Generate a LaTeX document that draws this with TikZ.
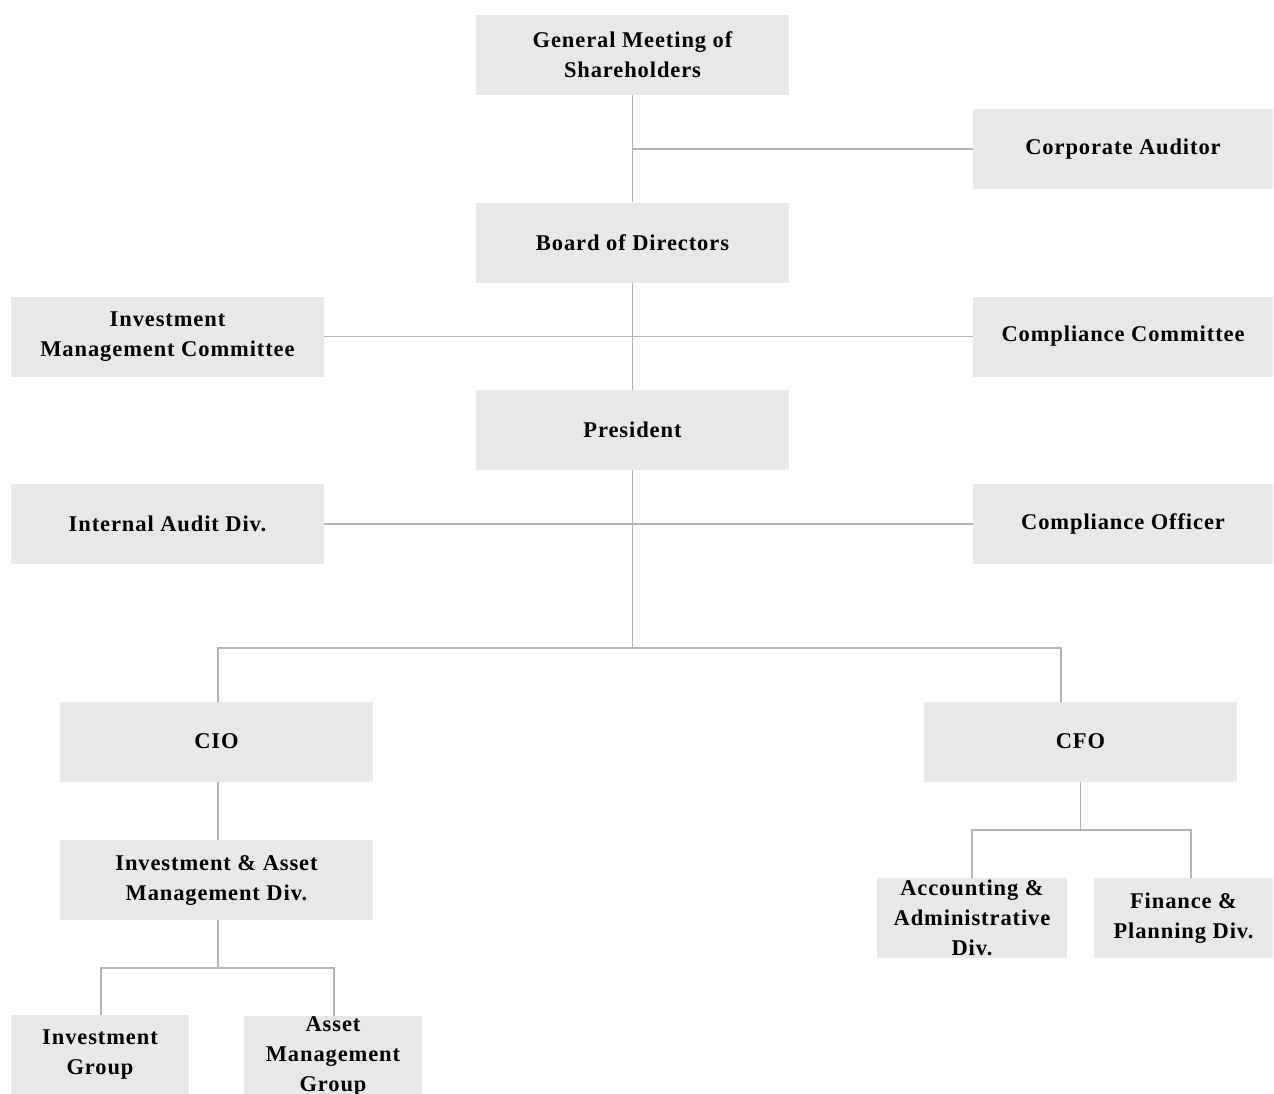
\documentclass[tikz,border=0pt]{standalone}
\usepackage{fontspec}
\setmainfont{Liberation Serif}
\usetikzlibrary{positioning}
\definecolor{boxGray}{RGB}{232,232,232}
\definecolor{lineGray}{RGB}{180,180,180}
\tikzset{
  org/box/.style={rectangle, fill=boxGray, draw=none,
    minimum width=313pt, minimum height=80pt, inner sep=0pt,
    font=\bfseries\fontsize{22.5}{30}\selectfont\addfontfeature{LetterSpace=4},
    align=center},
  org/side/.style={org/box, minimum width=300pt},
  org/small/.style={org/box, minimum width=180pt},
  org/line/.style={draw=lineGray, line width=1.3pt}
}
\begin{document}
\begin{tikzpicture}[x=1pt, y=-1pt]
  \useasboundingbox (0,0) rectangle (1274,1093);
  \clip (0,0) rectangle (1274,1093);

  % central column
  \node[org/box] (gms) at (632.5,55) {General Meeting of\\Shareholders};
  \node[org/box] (bod) at (632.5,242.5) {Board of Directors};
  \node[org/box] (pres) at (632.5,430) {President};

  % side boxes
  \node[org/side] (ca) at (1123,149) {Corporate Auditor};
  \node[org/box] (imc) at (167.5,336.5) {Investment\\Management Committee};
  \node[org/side] (cc) at (1123,336.5) {Compliance Committee};
  \node[org/box] (iad) at (167.5,524) {Internal Audit Div.};
  \node[org/side] (co) at (1123,524) {Compliance Officer};

  % lower levels
  \node[org/box] (cio) at (216.5,741.5) {CIO};
  \node[org/box] (cfo) at (1080.5,741.5) {CFO};
  \node[org/box] (iamd) at (216.5,880) {Investment \& Asset\\Management Div.};
  \node[org/small, minimum width=190pt] (acc) at (972,918)
        {Accounting \&\\Administrative\\Div.};
  \node[org/small, minimum width=179pt] (fin) at (1183.5,918)
        {Finance \&\\Planning Div.};
  \node[org/small, minimum width=178pt] (ig) at (100,1055)
        {Investment\\Group};
  \node[org/small, minimum width=178pt] (amg) at (333,1056)
        {Asset\\Management\\Group};

  \coordinate (split) at (632.5,648);
  \coordinate (ciotop) at (218,702);
  \coordinate (cfotop) at (1061,702);
  \coordinate (cfosplit) at (1080.5,830);
  \coordinate (fintop) at (1191,878);
  \coordinate (iamdsplit) at (218,968);

  \draw[org/line] (gms.south) -- (bod.north);
  \draw[org/line] (bod.south) -- (pres.north);
  \draw[org/line] (pres.south) -- (split);
  \draw[org/line] (gms.south |- ca.west) -- (ca.west);
  \draw[org/line] (imc.east) -- (bod.south |- imc.east);
  \draw[org/line] (bod.south |- cc.west) -- (cc.west);
  \draw[org/line] (iad.east) -- (co.west);
  \draw[org/line] (ciotop) |- (split) -| (cfotop);
  \draw[org/line] (ciotop |- cio.south) -- (ciotop |- iamd.north);
  \draw[org/line] (cfo.south) -- (cfosplit);
  \draw[org/line] (acc.north) |- (cfosplit) -| (fintop);
  \draw[org/line] (ciotop |- iamd.south) -- (iamdsplit);
  \draw[org/line] ([xshift=1pt]ig.north) |- (iamdsplit) -| ([xshift=1pt]amg.north);
\end{tikzpicture}
\end{document}
